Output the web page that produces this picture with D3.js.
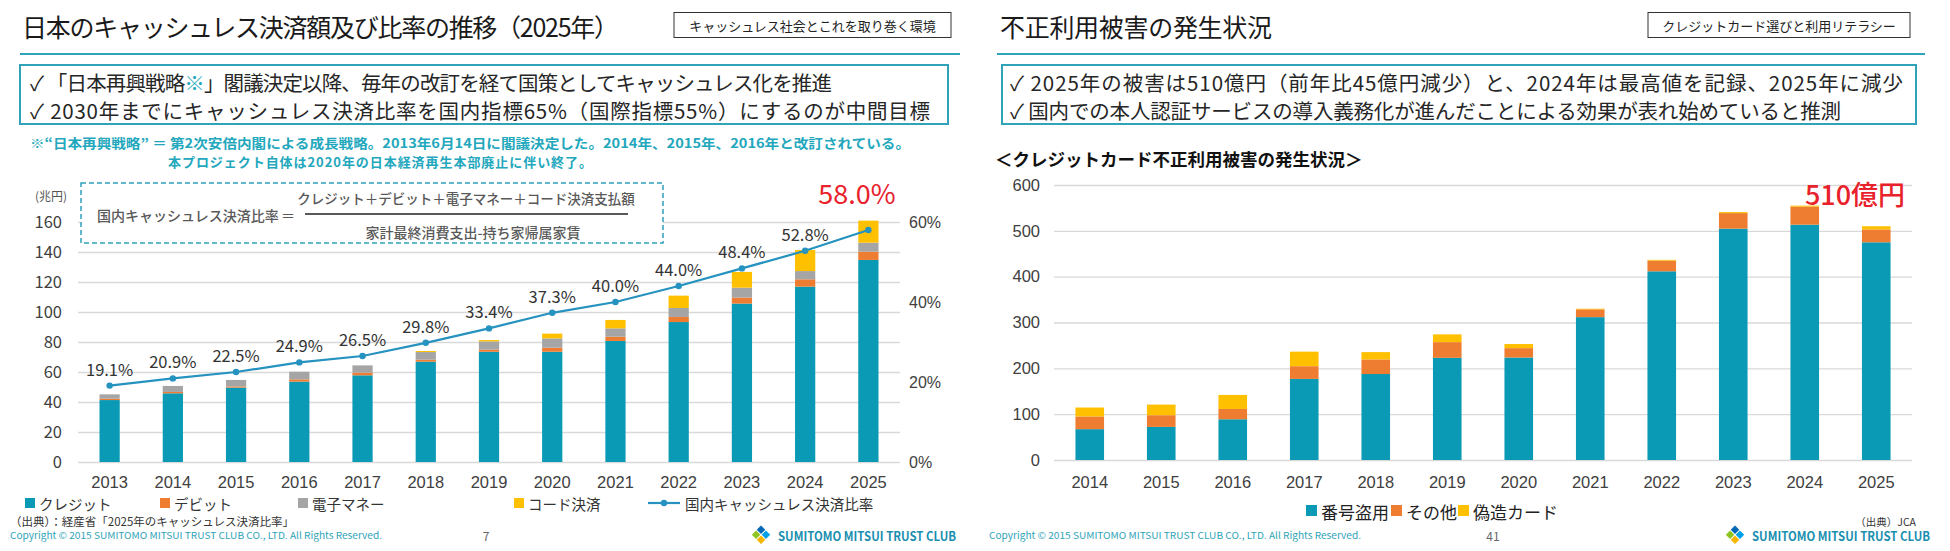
<!DOCTYPE html>
<html><head><meta charset="utf-8">
<script src="https://cdn.jsdelivr.net/npm/d3@7"></script>
<style>
body{margin:0;background:#fff;}
svg{display:block;font-family:"Noto Sans CJK JP","Noto Sans",sans-serif;}
</style></head><body>
<svg id="c" width="1950" height="551"></svg>
<script>
// ---------- Left chart data ----------
const years1 = ["2013","2014","2015","2016","2017","2018","2019","2020","2021","2022","2023","2024","2025"];
const credit = [41.3,45.8,49.6,53.6,57.8,66.9,73.5,73.5,80.7,93.3,105.6,116.9,134.7];
const debit  = [0.9,0.9,0.8,1.5,1.8,1.3,1.4,2.7,2.8,3.4,4.0,4.9,5.5];
const emoney = [2.9,4.0,4.3,5.1,4.8,5.1,5.5,6.2,5.6,6.0,6.6,5.5,6.0];
const codePay= [0,0,0,0,0,0.7,0.9,3.2,5.6,8.2,10.5,14.0,14.7];
const ratio  = [19.1,20.9,22.5,24.9,26.5,29.8,33.4,37.3,40.0,44.0,48.4,52.8,58.0];
const leftTicks = [0,20,40,60,80,100,120,140,160];
const pctTicks = [0,0.2,0.4,0.6];
const series1 = ["クレジット","デビット","電子マネー","コード決済"];
const lineName1 = "国内キャッシュレス決済比率";

// ---------- Right chart data ----------
const years2 = ["2014","2015","2016","2017","2018","2019","2020","2021","2022","2023","2024","2025"];
const theft  = [67.3,72.2,88.9,176.9,187.6,222.9,223.6,311.7,411.7,504.7,513.4,475.0];
const other  = [27.7,25.6,22.5,27.8,31.8,34.3,20.5,16.9,23.3,34.0,39.4,28.0];
const forged = [19.5,23.1,30.6,31.7,16.0,16.9,8.9,1.5,1.7,2.2,2.2,7.0];
const rightTicks = [0,100,200,300,400,500,600];
const series2 = ["番号盗用","その他","偽造カード"];

const C = {teal:"#0a9ab5", orange:"#ee7d31", gray:"#a5a5a5", yellow:"#ffc000", line:"#2592bf",
  grid:"#d9d9d9", frame:"#2fa3b8", note:"#22a7bd", red:"#e8212b", txt:"#262626", axis:"#404040"};

const svg = d3.select("#c");
function T(g,x,y,s,o={}){
  const t=g.append("text").attr("x",x).attr("y",y).text(s)
    .attr("font-size",o.size||14).attr("fill",o.fill||C.txt)
    .attr("text-anchor",o.anchor||"start").attr("dominant-baseline",o.base||"central");
  if(o.weight) t.attr("font-weight",o.weight);
  if(o.len) t.attr("textLength",o.len).attr("lengthAdjust",o.adj||"spacingAndGlyphs");
  return t;
}
function logo(g,x,y){
  const cols=["#0068b7","#00a0e9","#8fc31f","#f8b500"];
  const s=6;
  [[0,0],[1,0],[0,1],[1,1]].forEach((p,i)=>{
    g.append("rect").attr("x",x+p[0]*(s+1)).attr("y",y+p[1]*(s+1)).attr("width",s).attr("height",s)
     .attr("fill",cols[i]).attr("transform",`rotate(45 ${x+s} ${y+s})`);
  });
}
function header(g,tx,lx0,lx1,title,tlen,tag,tagX0,tagX1){
  T(g,tx,26,title,{size:25,fill:"#1a1a1a",len:tlen,adj:"spacing"});
  g.append("rect").attr("x",tagX0).attr("y",12.5).attr("width",tagX1-tagX0).attr("height",25)
    .attr("fill","#fff").attr("stroke","#333").attr("stroke-width",1);
  T(g,(tagX0+tagX1)/2,25,tag,{size:13,anchor:"middle",fill:"#222"});
  g.append("line").attr("x1",lx0).attr("x2",lx1).attr("y1",54).attr("y2",54)
    .attr("stroke",C.frame).attr("stroke-width",2);
}
function footer(g,x0,page,pageX,logoX){
  T(g,x0,535,"Copyright © 2015 SUMITOMO MITSUI TRUST CLUB CO., LTD. All Rights Reserved.",{size:9.5,fill:C.frame,len:372});
  T(g,pageX,535,page,{size:12,fill:"#666",anchor:"middle"});
  logo(g,logoX,528);
  T(g,logoX+23,535,"SUMITOMO MITSUI TRUST CLUB",{size:12.5,weight:"bold",fill:"#1a8fb0",len:178});
}

// ================= LEFT SLIDE =================
const L = svg.append("g");
header(L,22,20,960,"日本のキャッシュレス決済額及び比率の推移（2025年）",597,"キャッシュレス社会とこれを取り巻く環境",674,951);
L.append("rect").attr("x",20).attr("y",65).attr("width",928).attr("height",59)
  .attr("fill","none").attr("stroke",C.frame).attr("stroke-width",2);
const b1 = T(L,30,82,"",{size:20.5,len:802,adj:"spacing"});
b1.append("tspan").text("✓ 「日本再興戦略");
b1.append("tspan").text("※").attr("fill",C.note);
b1.append("tspan").text("」閣議決定以降、毎年の改訂を経て国策としてキャッシュレス化を推進");
T(L,30,110,"✓ 2030年までにキャッシュレス決済比率を国内指標65%（国際指標55%）にするのが中間目標",{size:20.5,len:900,adj:"spacing"});
T(L,30,142,"※“日本再興戦略” ＝ 第2次安倍内閣による成長戦略。2013年6月14日に閣議決定した。2014年、2015年、2016年と改訂されている。",{size:13,fill:C.note,weight:"bold",len:880});
T(L,168,161,"本プロジェクト自体は2020年の日本経済再生本部廃止に伴い終了。",{size:13,fill:C.note,weight:"bold",len:424,adj:"spacing"});

// plot geometry
const px0=78, px1=900, py0=462, py1=222;
const x1s = d3.scaleBand().domain(years1).range([px0,px1]).paddingInner(0.68).paddingOuter(0.34);
const y1s = d3.scaleLinear().domain([0,160]).range([py0,py1]);
const yPct = d3.scaleLinear().domain([0,0.6]).range([py0,py1]);

const gy = L.append("g").attr("transform",`translate(${px0},0)`)
  .call(d3.axisLeft(y1s).tickValues(leftTicks).tickSize(-(px1-px0)).tickPadding(16));
gy.select(".domain").remove();
gy.selectAll(".tick line").attr("stroke",C.grid).attr("stroke-width",1.3);
gy.selectAll(".tick text").attr("font-size",16.5).attr("fill",C.axis).attr("font-family","Noto Sans CJK JP");

const gyr = L.append("g").attr("transform",`translate(${px1},0)`)
  .call(d3.axisRight(yPct).tickValues(pctTicks).tickFormat(d3.format(".0%")).tickSize(0).tickPadding(9));
gyr.select(".domain").remove();
gyr.selectAll(".tick text").attr("font-size",16).attr("fill",C.axis);

const gx = L.append("g").attr("transform",`translate(0,${py0})`)
  .call(d3.axisBottom(x1s).tickSize(0).tickPadding(14));
gx.select(".domain").remove();
gx.selectAll(".tick text").attr("font-size",16.5).attr("fill",C.axis);

T(L,51,195,"(兆円)",{size:12,fill:"#555",anchor:"middle"});

const rows1 = years1.map((y,i)=>({year:y,"クレジット":credit[i],"デビット":debit[i],"電子マネー":emoney[i],"コード決済":codePay[i]}));
const stack1 = d3.stack().keys(series1)(rows1);
const col1 = [C.teal,C.orange,C.gray,C.yellow];
L.append("g").selectAll("g").data(stack1).join("g").attr("fill",(d,i)=>col1[i])
  .selectAll("rect").data(d=>d).join("rect")
  .attr("x",d=>x1s(d.data.year)).attr("width",x1s.bandwidth())
  .attr("y",d=>y1s(d[1])).attr("height",d=>Math.max(0,y1s(d[0])-y1s(d[1])));

const cx = y=>x1s(y)+x1s.bandwidth()/2;
L.append("path").datum(years1).attr("fill","none").attr("stroke",C.line).attr("stroke-width",2.2)
  .attr("d",d3.line().x(y=>cx(y)).y((y,i)=>yPct(ratio[i]/100)));
L.append("g").selectAll("circle").data(years1).join("circle")
  .attr("cx",y=>cx(y)).attr("cy",(y,i)=>yPct(ratio[i]/100)).attr("r",3.2).attr("fill",C.line);
L.append("g").selectAll("text").data(years1.slice(0,-1)).join("text")
  .attr("x",y=>cx(y)).attr("y",(y,i)=>yPct(ratio[i]/100)-17).attr("text-anchor","middle")
  .attr("dominant-baseline","central").attr("font-size",16.5).attr("fill","#333")
  .text((y,i)=>ratio[i].toFixed(1)+"%");
T(L,857,192,ratio[ratio.length-1].toFixed(1)+"%",{size:27,fill:C.red,anchor:"middle"});

// formula box
L.append("rect").attr("x",81).attr("y",183).attr("width",582).attr("height",60)
  .attr("fill","#fff").attr("stroke",C.frame).attr("stroke-width",1.5).attr("stroke-dasharray","5,3");
T(L,97,215,"国内キャッシュレス決済比率",{size:14,fill:"#595959",weight:500});
T(L,288,215,"＝",{size:14,fill:"#595959",anchor:"middle"});
L.append("line").attr("x1",305).attr("x2",628).attr("y1",214).attr("y2",214).attr("stroke","#222").attr("stroke-width",1.3);
T(L,466,198,"クレジット＋デビット＋電子マネー＋コード決済支払額",{size:13.5,fill:"#595959",anchor:"middle",weight:500});
T(L,473,232,"家計最終消費支出-持ち家帰属家賃",{size:14,fill:"#595959",anchor:"middle",weight:500});

// legend
const lg1 = [{n:series1[0],c:C.teal,x:25},{n:series1[1],c:C.orange,x:160},{n:series1[2],c:C.gray,x:298},{n:series1[3],c:C.yellow,x:514}];
lg1.forEach(d=>{
  L.append("rect").attr("x",d.x).attr("y",498).attr("width",10).attr("height",10).attr("fill",d.c);
  T(L,d.x+14,503,d.n,{size:14.5,fill:"#333"});
});
L.append("line").attr("x1",648).attr("x2",680).attr("y1",503).attr("y2",503).attr("stroke",C.line).attr("stroke-width",2.2);
L.append("circle").attr("cx",664).attr("cy",503).attr("r",3.2).attr("fill",C.line);
T(L,685,503,lineName1,{size:14.5,fill:"#333"});
T(L,10,521,"（出典）：経産省「2025年のキャッシュレス決済比率」",{size:11.5,fill:"#333"});
footer(L,10,"7",486,755);

// ================= RIGHT SLIDE =================
const R = svg.append("g");
header(R,1000,997,1925,"不正利用被害の発生状況",272,"クレジットカード選びと利用リテラシー",1648,1910);
R.append("rect").attr("x",1002).attr("y",65).attr("width",914).attr("height",59)
  .attr("fill","none").attr("stroke",C.frame).attr("stroke-width",2);
T(R,1010,82,"✓ 2025年の被害は510億円（前年比45億円減少）と、2024年は最高値を記録、2025年に減少",{size:20.5,len:893,adj:"spacing"});
T(R,1010,110,"✓ 国内での本人認証サービスの導入義務化が進んだことによる効果が表れ始めていると推測",{size:20.5,len:831,adj:"spacing"});
T(R,995,158,"＜クレジットカード不正利用被害の発生状況＞",{size:17.5,weight:600,fill:"#111"});

const qx0=1054, qx1=1912, qy0=460, qy1=185;
const x2s = d3.scaleBand().domain(years2).range([qx0,qx1]).paddingInner(0.6).paddingOuter(0.3);
const y2s = d3.scaleLinear().domain([0,600]).range([qy0,qy1]);
const gy2 = R.append("g").attr("transform",`translate(${qx0},0)`)
  .call(d3.axisLeft(y2s).tickValues(rightTicks).tickSize(-(qx1-qx0)).tickPadding(14));
gy2.select(".domain").remove();
gy2.selectAll(".tick line").attr("stroke",C.grid).attr("stroke-width",1.3);
gy2.selectAll(".tick text").attr("font-size",16.5).attr("fill",C.axis);
const gx2 = R.append("g").attr("transform",`translate(0,${qy0})`)
  .call(d3.axisBottom(x2s).tickSize(0).tickPadding(16));
gx2.select(".domain").remove();
gx2.selectAll(".tick text").attr("font-size",16.5).attr("fill",C.axis);

const rows2 = years2.map((y,i)=>({year:y,"番号盗用":theft[i],"その他":other[i],"偽造カード":forged[i]}));
const stack2 = d3.stack().keys(series2)(rows2);
const col2 = [C.teal,C.orange,C.yellow];
R.append("g").selectAll("g").data(stack2).join("g").attr("fill",(d,i)=>col2[i])
  .selectAll("rect").data(d=>d).join("rect")
  .attr("x",d=>x2s(d.data.year)).attr("width",x2s.bandwidth())
  .attr("y",d=>y2s(d[1])).attr("height",d=>Math.max(0,y2s(d[0])-y2s(d[1])));
const total25 = theft[11]+other[11]+forged[11];
T(R,1855,193,Math.round(total25)+"億円",{size:27,fill:C.red,anchor:"middle",weight:500});

const lg2 = [{n:series2[0],c:C.teal,x:1306},{n:series2[1],c:C.orange,x:1391},{n:series2[2],c:C.yellow,x:1458}];
lg2.forEach(d=>{
  R.append("rect").attr("x",d.x).attr("y",505).attr("width",11).attr("height",11).attr("fill",d.c);
  T(R,d.x+15,511,d.n,{size:17,fill:"#222"});
});
T(R,1916,521,"（出典）JCA",{size:10.5,fill:"#333",anchor:"end"});
footer(R,989,"41",1493,1729);
</script></body></html>
